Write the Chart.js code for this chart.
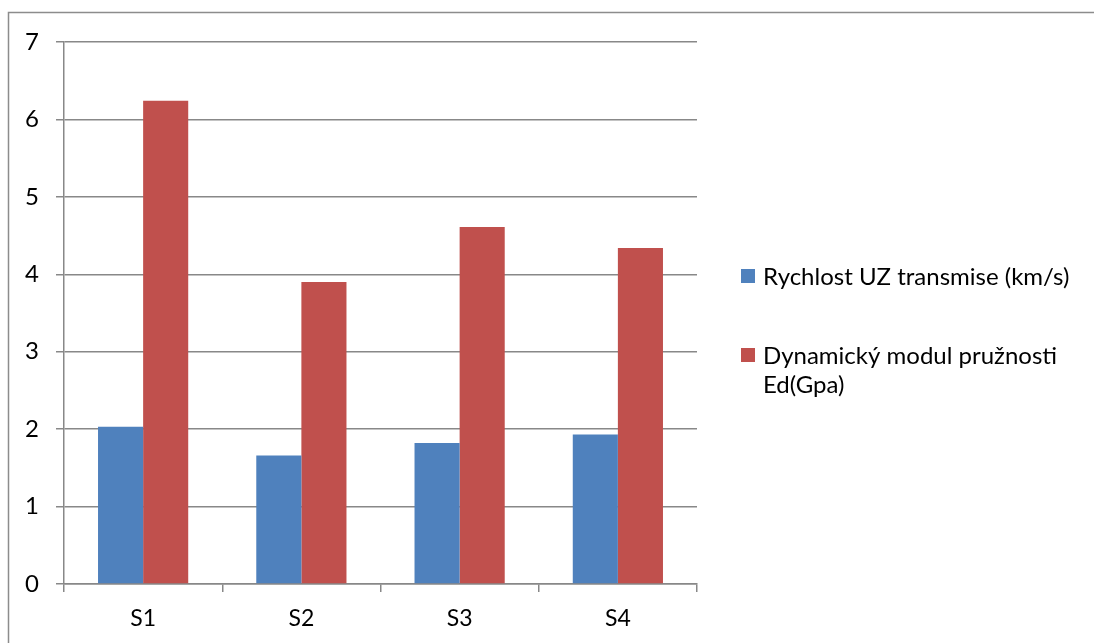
<!DOCTYPE html>
<html>
<head>
<meta charset="utf-8">
<script src="https://cdn.jsdelivr.net/npm/chart.js@4"></script>
<style>
	html, body { margin: 0; padding: 0; background: #fff; }
	#wrap { width: 1094px; height: 643px; position: relative; }
</style>
</head>
<body>
<div id="wrap"><canvas id="chart" width="1094" height="643"></canvas></div>
<script>
// Data
const categories = ["S1", "S2", "S3", "S4"];
const rychlost = [2.03, 1.66, 1.82, 1.93];
const modul = [6.24, 3.90, 4.61, 4.34];
const seriesLabels = [
	["Rychlost UZ transmise (km/s)"],
	["Dynamický modul pružnosti", "Ed(Gpa)"]
];
const seriesColors = ["#4F81BD", "#C0504D"];
const yTicks = [0, 1, 2, 3, 4, 5, 6, 7];

const FONT = "Lato, 'Open Sans', sans-serif";
const gridColor = "#888888";

// Outer frame of the chart
const framePlugin = {
	id: "frame",
	beforeDraw(chart) {
		const ctx = chart.ctx;
		ctx.save();
		ctx.strokeStyle = "#8c8c8c";
		ctx.lineWidth = 1.5;
		ctx.strokeRect(8.5, 12.5, 1100, 700);
		ctx.restore();
	}
};

// Legend on the right, with a wrapped second label
const legendPlugin = {
	id: "sideLegend",
	afterDraw(chart) {
		const ctx = chart.ctx;
		const boxX = 741, textX = 763, box = 14;
		const rows = [276, 355];
		ctx.save();
		ctx.font = "24px " + FONT;
		ctx.textBaseline = "middle";
		chart.data.datasets.forEach((ds, i) => {
			const y = rows[i];
			ctx.fillStyle = ds.backgroundColor;
			ctx.fillRect(boxX, y - box / 2, box, box);
			ctx.fillStyle = "#000";
			ds.legendLines.forEach((line, j) => {
				ctx.fillText(line, textX, y + 1 + j * 29);
			});
		});
		ctx.restore();
	}
};

const ctx = document.getElementById("chart").getContext("2d");
new Chart(ctx, {
	type: "bar",
	data: {
		labels: categories,
		datasets: [
			{
				label: seriesLabels[0].join(" "),
				legendLines: seriesLabels[0],
				data: rychlost,
				backgroundColor: seriesColors[0],
				borderWidth: 0
			},
			{
				label: seriesLabels[1].join(" "),
				legendLines: seriesLabels[1],
				data: modul,
				backgroundColor: seriesColors[1],
				borderWidth: 0
			}
		]
	},
	options: {
		responsive: false,
		animation: false,
		layout: { padding: { top: 42, right: 397, left: 0, bottom: 0 } },
		plugins: {
			legend: { display: false },
			tooltip: { enabled: false }
		},
		datasets: {
			bar: { categoryPercentage: 0.57, barPercentage: 1 }
		},
		scales: {
			x: {
				afterFit(scale) { scale.height = 59; },
				grid: {
					offset: true,
					drawOnChartArea: false,
					drawTicks: true,
					tickLength: 8,
					color: gridColor,
					lineWidth: 1.5
				},
				border: { color: gridColor, width: 1.5 },
				ticks: {
					color: "#000",
					font: { family: FONT, size: 23 },
					padding: 13
				}
			},
			y: {
				min: 0,
				max: yTicks[yTicks.length - 1],
				afterFit(scale) { scale.width = 64; },
				afterBuildTicks(scale) { scale.ticks = yTicks.map(v => ({ value: v })); },
				grid: {
					color: gridColor,
					lineWidth: 1.5,
					tickLength: 8
				},
				border: { color: gridColor, width: 1.5 },
				ticks: {
					color: "#000",
					font: { family: FONT, size: 24 },
					padding: 17
				}
			}
		}
	},
	plugins: [framePlugin, legendPlugin]
});
</script>
</body>
</html>
